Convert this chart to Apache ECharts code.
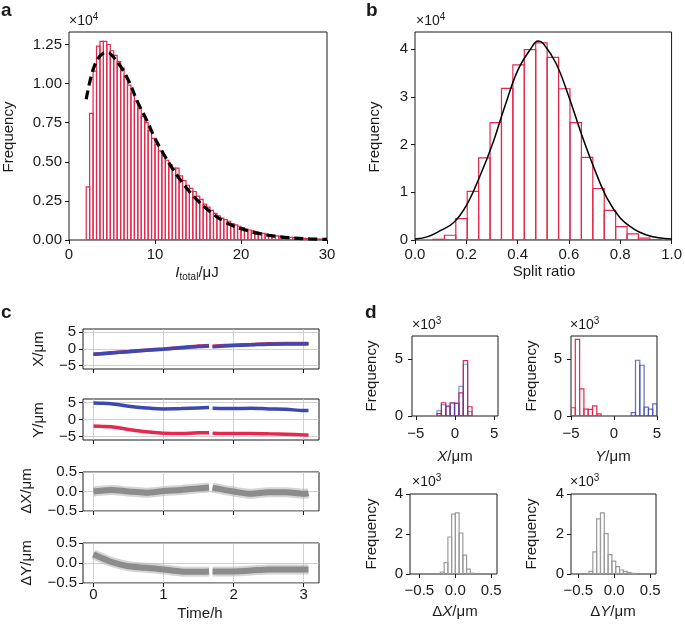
<!DOCTYPE html>
<html>
<head>
<meta charset="utf-8">
<script src="https://cdn.jsdelivr.net/npm/echarts@6/dist/echarts.min.js"></script>
<style>
  html, body { margin: 0; padding: 0; background: #fff; }
  #main { width: 685px; height: 627px; }
</style>
</head>
<body>
<div id="main"></div>
<script>
/* ---------- data ---------- */

// a: pulse energy histogram (x10^4), bins of 0.4 uJ from 2 uJ
var aBinStart = 2.0, aBinWidth = 0.4;
var aCounts = [0.34, 0.81, 1.08, 1.24, 1.27, 1.27, 1.25, 1.21, 1.18, 1.14,
               1.10, 1.05, 0.99, 0.94, 0.89, 0.84, 0.79, 0.75, 0.70, 0.65,
               0.61, 0.57, 0.54, 0.51, 0.48, 0.46, 0.46, 0.41, 0.38, 0.35,
               0.33, 0.31, 0.28, 0.26, 0.23, 0.21, 0.19, 0.17, 0.155, 0.14,
               0.13, 0.12, 0.105, 0.097, 0.088, 0.079, 0.07, 0.064, 0.058, 0.052,
               0.047, 0.042, 0.038, 0.034, 0.03, 0.027, 0.024, 0.021, 0.019, 0.017,
               0.015, 0.013, 0.012, 0.011, 0.009, 0.008, 0.007, 0.006, 0.005, 0.005];
var aFitX = [2, 2.5, 3, 3.5, 4, 4.5, 5, 6, 7, 8, 9, 10, 11, 12, 13, 14, 15, 16, 17, 18, 19, 20, 22, 24, 26, 28, 30];
var aFitY = [0.9, 1.03, 1.12, 1.17, 1.195, 1.2, 1.18, 1.11, 1.01, 0.88, 0.77, 0.65, 0.55, 0.46, 0.38, 0.31, 0.25, 0.2, 0.155, 0.12, 0.093, 0.072, 0.042, 0.024, 0.013, 0.007, 0.004];

// b: split ratio histogram (x10^4)
var bBinStart = 0.07, bBinWidth = 0.0445;
var bCounts = [0.015, 0.1, 0.45, 1.02, 1.72, 2.46, 3.18, 3.67, 3.99, 4.13,
               3.83, 3.17, 2.46, 1.73, 1.08, 0.62, 0.28, 0.13, 0.04, 0.01];
var bFitX = [0, 0.05, 0.1, 0.15, 0.2, 0.25, 0.3, 0.35, 0.4, 0.45, 0.48, 0.5, 0.55, 0.6, 0.65, 0.7, 0.75, 0.8, 0.85, 0.9, 0.95, 1.0];
var bFitY = [0.02, 0.07, 0.2, 0.36, 0.72, 1.3, 1.98, 2.8, 3.55, 4.0, 4.17, 4.12, 3.7, 3.0, 2.2, 1.48, 0.86, 0.46, 0.24, 0.11, 0.045, 0.02];

// c: drift traces vs time (h)
var tC     = [0, 0.1, 0.25, 0.5, 0.75, 1.0, 1.25, 1.5, 1.65, 1.675, 1.7, 2.0, 2.25, 2.5, 2.75, 3.0, 3.07];
var xBlue  = [-1.6, -1.45, -1.2, -0.8, -0.4, -0.05, 0.35, 0.75, 0.9, null, 0.7, 1.05, 1.25, 1.45, 1.5, 1.5, 1.55];
var xRed   = [-1.55, -1.4, -1.15, -0.75, -0.35, 0.0, 0.45, 0.9, 1.05, null, 0.85, 1.15, 1.35, 1.6, 1.65, 1.65, 1.65];
var yBlue  = [4.8, 4.75, 4.6, 3.9, 3.4, 3.1, 3.2, 3.4, 3.5, null, 3.3, 3.2, 3.3, 3.1, 3.0, 2.6, 2.6];
var yRed   = [-1.9, -2.0, -2.1, -2.9, -3.6, -4.0, -4.1, -3.9, -3.9, null, -4.0, -4.1, -4.1, -4.2, -4.3, -4.5, -4.55];
var dX     = [0.0, 0.02, 0.04, 0.0, -0.03, 0.01, 0.04, 0.08, 0.1, null, 0.1, 0.0, -0.06, -0.02, -0.02, -0.06, -0.04];
var dY     = [0.22, 0.14, 0.03, -0.08, -0.12, -0.16, -0.21, -0.22, -0.21, null, -0.21, -0.21, -0.19, -0.16, -0.16, -0.16, -0.16];

// d: position histograms (x10^3)
var hxStart = -2.3, hxWidth = 0.56;
var hxRed  = [0.2, 1.16, 0.87, 1.16, 1.1, 2.03, 4.85, 0.81];
var hxBlue = [0.47, 0.99, 0.81, 1.13, 1.1, 2.6, 4.53, 0.38];
var hyRedStart = -5.0, hyBlueStart = 2.0, hyWidth = 0.5;
var hyRed  = [0.72, 6.7, 2.38, 0.6, 0.58, 0.88, 0.18];
var hyBlue = [0.3, 4.88, 4.44, 0.78, 0.6, 1.06];
var hdxStart = -0.207, hdxWidth = 0.052;
var hdx = [0.1, 0.57, 1.85, 2.99, 3.06, 2.05, 0.94, 0.24, 0.04];
var hdyStart = -0.35, hdyWidth = 0.053;
var hdy = [0.13, 1.11, 2.76, 3.06, 2.02, 0.97, 0.64, 0.37, 0.2, 0.13, 0.07, 0.03];

/* ---------- helpers ---------- */
var FONT = 'Liberation Sans, Arial, sans-serif';
var INK = '#1a1a1a';
var RED = '#e4284f', BLUE = '#3d48b0', GRAY = '#8c8c8c';

function histData(start, width, counts) {
    return counts.map(function(c, i) {
        return [start + i * width, start + (i + 1) * width, c];
    });
}
function pairs(xs, ys) {
    return xs.map(function(x, i) { return [x, ys[i] === null ? '-' : ys[i]]; });
}
function minus(s) { return String(s).replace('-', '\u2212'); }

function histSeries(gi, data, color, opacity) {
    return {
        type: 'custom', xAxisIndex: gi, yAxisIndex: gi, clip: true,
        data: data,
        renderItem: function(params, api) {
            var p0 = api.coord([api.value(0), api.value(2)]);
            var p1 = api.coord([api.value(1), 0]);
            return {
                type: 'rect',
                shape: { x: p0[0], y: p0[1], width: p1[0] - p0[0], height: p1[1] - p0[1] },
                style: { fill: 'none', stroke: color, lineWidth: 1.2, opacity: opacity || 1 }
            };
        }
    };
}
function lineSeries(gi, data, color, width, opacity) {
    return {
        type: 'line', xAxisIndex: gi, yAxisIndex: gi, data: data,
        showSymbol: false, smooth: 0.3, connectNulls: false,
        lineStyle: { color: color, width: width, opacity: opacity || 1 },
        silent: true
    };
}

function mkAxis(gi, min, max, ticks, fmt, margin, showLabels, split) {
    return {
        type: 'value', gridIndex: gi, min: min, max: max,
        axisLine: { show: false, onZero: false },
        axisTick: { show: true, length: 4, customValues: ticks, lineStyle: { color: INK } },
        axisLabel: {
            show: showLabels !== false, customValues: ticks, margin: margin,
            fontFamily: FONT, fontSize: 15, color: INK, formatter: fmt
        },
        splitLine: { show: !!split, lineStyle: { color: '#c4c4c4', width: 0.8 } }
    };
}

/* ---------- layout ---------- */
var gridBoxes = [
    [69, 32, 258, 208],   // a
    [415, 32, 258, 208],  // b
    [83, 329, 236, 40],   // c X
    [83, 399, 236, 41],   // c Y
    [83, 472, 236, 39],   // c dX
    [83, 543, 236, 40],   // c dY
    [412, 336, 86, 80],   // d X
    [571, 336, 86, 80],   // d Y
    [410, 494, 87, 80],   // d dX
    [571, 494, 85, 80]    // d dY
];
var grids = gridBoxes.map(function(b) {
    return { left: b[0], top: b[1], width: b[2], height: b[3], show: true,
             borderColor: INK, borderWidth: 1, backgroundColor: 'transparent' };
});

var f0 = function(v) { return minus(v); };
var f1 = function(v) { return minus(v.toFixed(1)); };
var f2 = function(v) { return v.toFixed(2); };

var xAxes = [
    mkAxis(0, 0, 30, [0, 10, 20, 30], f0, 7),
    mkAxis(1, 0, 1, [0, 0.2, 0.4, 0.6, 0.8, 1.0], f1, 7),
    mkAxis(2, -0.15, 3.22, [0, 1, 2, 3], f0, 4, false, true),
    mkAxis(3, -0.15, 3.22, [0, 1, 2, 3], f0, 4, false, true),
    mkAxis(4, -0.15, 3.22, [0, 1, 2, 3], f0, 4, false, true),
    mkAxis(5, -0.15, 3.22, [0, 1, 2, 3], f0, 4, true, true),
    mkAxis(6, -5.5, 5.5, [-5, 0, 5], f0, 10),
    mkAxis(7, -5, 5, [-5, 0, 5], f0, 10),
    mkAxis(8, -0.63, 0.58, [-0.5, 0, 0.5], f1, 9),
    mkAxis(9, -0.6, 0.58, [-0.5, 0, 0.5], f1, 9)
];
var yAxes = [
    mkAxis(0, 0, 1.33, [0, 0.25, 0.5, 0.75, 1.0, 1.25], f2, 7),
    mkAxis(1, 0, 4.36, [0, 1, 2, 3, 4], f0, 7),
    mkAxis(2, -6, 6, [-5, 0, 5], f0, 7, true, true),
    mkAxis(3, -6, 6, [-5, 0, 5], f0, 7, true, true),
    mkAxis(4, -0.5, 0.5, [-0.5, 0, 0.5], f1, 6, true, true),
    mkAxis(5, -0.5, 0.5, [-0.5, 0, 0.5], f1, 6, true, true),
    mkAxis(6, 0, 7, [0, 5], f0, 9),
    mkAxis(7, 0, 7, [0, 5], f0, 9),
    mkAxis(8, 0, 4, [0, 2, 4], f0, 7),
    mkAxis(9, 0, 4, [0, 2, 4], f0, 7)
];

var series = [
    histSeries(0, histData(aBinStart, aBinWidth, aCounts), RED),
    {
        type: 'line', xAxisIndex: 0, yAxisIndex: 0, data: pairs(aFitX, aFitY),
        showSymbol: false, smooth: 0.4, z: 5,
        lineStyle: { color: '#000', width: 3.2, type: [9, 5] }
    },
    histSeries(1, histData(bBinStart, bBinWidth, bCounts), RED),
    {
        type: 'line', xAxisIndex: 1, yAxisIndex: 1, data: pairs(bFitX, bFitY),
        showSymbol: false, smooth: 0.4, z: 5,
        lineStyle: { color: '#000', width: 1.5 }
    },
    lineSeries(2, pairs(tC, xRed), RED, 3.5),
    lineSeries(2, pairs(tC, xBlue), BLUE, 3.5),
    lineSeries(3, pairs(tC, yBlue), BLUE, 3.5),
    lineSeries(3, pairs(tC, yRed), RED, 3.5),
    lineSeries(4, pairs(tC, dX), '#b0b0b0', 10, 0.55),
    lineSeries(4, pairs(tC, dX), GRAY, 6),
    lineSeries(5, pairs(tC, dY), '#b0b0b0', 10, 0.55),
    lineSeries(5, pairs(tC, dY), GRAY, 6),
    histSeries(6, histData(hxStart, hxWidth, hxRed), RED),
    histSeries(6, histData(hxStart, hxWidth, hxBlue), BLUE, 0.6),
    histSeries(7, histData(hyRedStart, hyWidth, hyRed), RED),
    histSeries(7, histData(hyBlueStart, hyWidth, hyBlue), BLUE, 0.8),
    histSeries(8, histData(hdxStart, hdxWidth, hdx), '#9a9a9a'),
    histSeries(9, histData(hdyStart, hdyWidth, hdy), '#9a9a9a')
];

/* ---------- text ---------- */
var rich = {
    n: { fontFamily: FONT, fontSize: 15, color: INK },
    i: { fontFamily: FONT, fontSize: 15, color: INK, fontStyle: 'italic' },
    sub: { fontFamily: FONT, fontSize: 10, color: INK, padding: [9, 0, 0, 0] },
    sup: { fontFamily: FONT, fontSize: 10, color: INK, padding: [0, 0, 8, 0] },
    sn: { fontFamily: FONT, fontSize: 14, color: INK }
};
function txt(x, y, text, opts) {
    opts = opts || {};
    return {
        type: 'text', x: x, y: y, rotation: opts.rot ? Math.PI / 2 : 0,
        style: {
            text: text, rich: rich, fill: INK,
            font: (opts.bold ? 'bold ' : '') + (opts.size || 15) + 'px ' + FONT,
            align: opts.align || 'center', verticalAlign: 'middle'
        }
    };
}
var graphics = [
    txt(1, 11, 'a', { bold: true, size: 19, align: 'left' }),
    txt(366, 11, 'b', { bold: true, size: 19, align: 'left' }),
    txt(1, 313, 'c', { bold: true, size: 19, align: 'left' }),
    txt(365, 313, 'd', { bold: true, size: 19, align: 'left' }),
    txt(69, 21, '{sn|×10}{sup|4}', { align: 'left' }),
    txt(416, 21, '{sn|×10}{sup|4}', { align: 'left' }),
    txt(412, 325, '{sn|×10}{sup|3}', { align: 'left' }),
    txt(570, 325, '{sn|×10}{sup|3}', { align: 'left' }),
    txt(412, 482, '{sn|×10}{sup|3}', { align: 'left' }),
    txt(570, 482, '{sn|×10}{sup|3}', { align: 'left' }),
    txt(9, 137, 'Frequency', { rot: true }),
    txt(375, 137, 'Frequency', { rot: true }),
    txt(197, 273, '{i|I}{sub|total}{n|/μJ}'),
    txt(544, 272, 'Split ratio'),
    txt(39, 349, 'X/μm', { rot: true }),
    txt(39, 420, 'Y/μm', { rot: true }),
    txt(27, 491, 'ΔX/μm', { rot: true }),
    txt(27, 563, 'ΔY/μm', { rot: true }),
    txt(200, 614, 'Time/h'),
    txt(372, 376, 'Frequency', { rot: true }),
    txt(532, 376, 'Frequency', { rot: true }),
    txt(372, 534, 'Frequency', { rot: true }),
    txt(532, 534, 'Frequency', { rot: true }),
    txt(455, 457, '{i|X}{n|/μm}'),
    txt(613, 457, '{i|Y}{n|/μm}'),
    txt(455, 612, '{n|Δ}{i|X}{n|/μm}'),
    txt(613, 612, '{n|Δ}{i|Y}{n|/μm}')
];

var myChart = echarts.init(document.getElementById('main'), null, { renderer: 'canvas' });
var option = {
    animation: false,
    backgroundColor: '#fff',
    grid: grids,
    xAxis: xAxes,
    yAxis: yAxes,
    series: series,
    graphic: graphics
};
myChart.setOption(option);
</script>
</body>
</html>
